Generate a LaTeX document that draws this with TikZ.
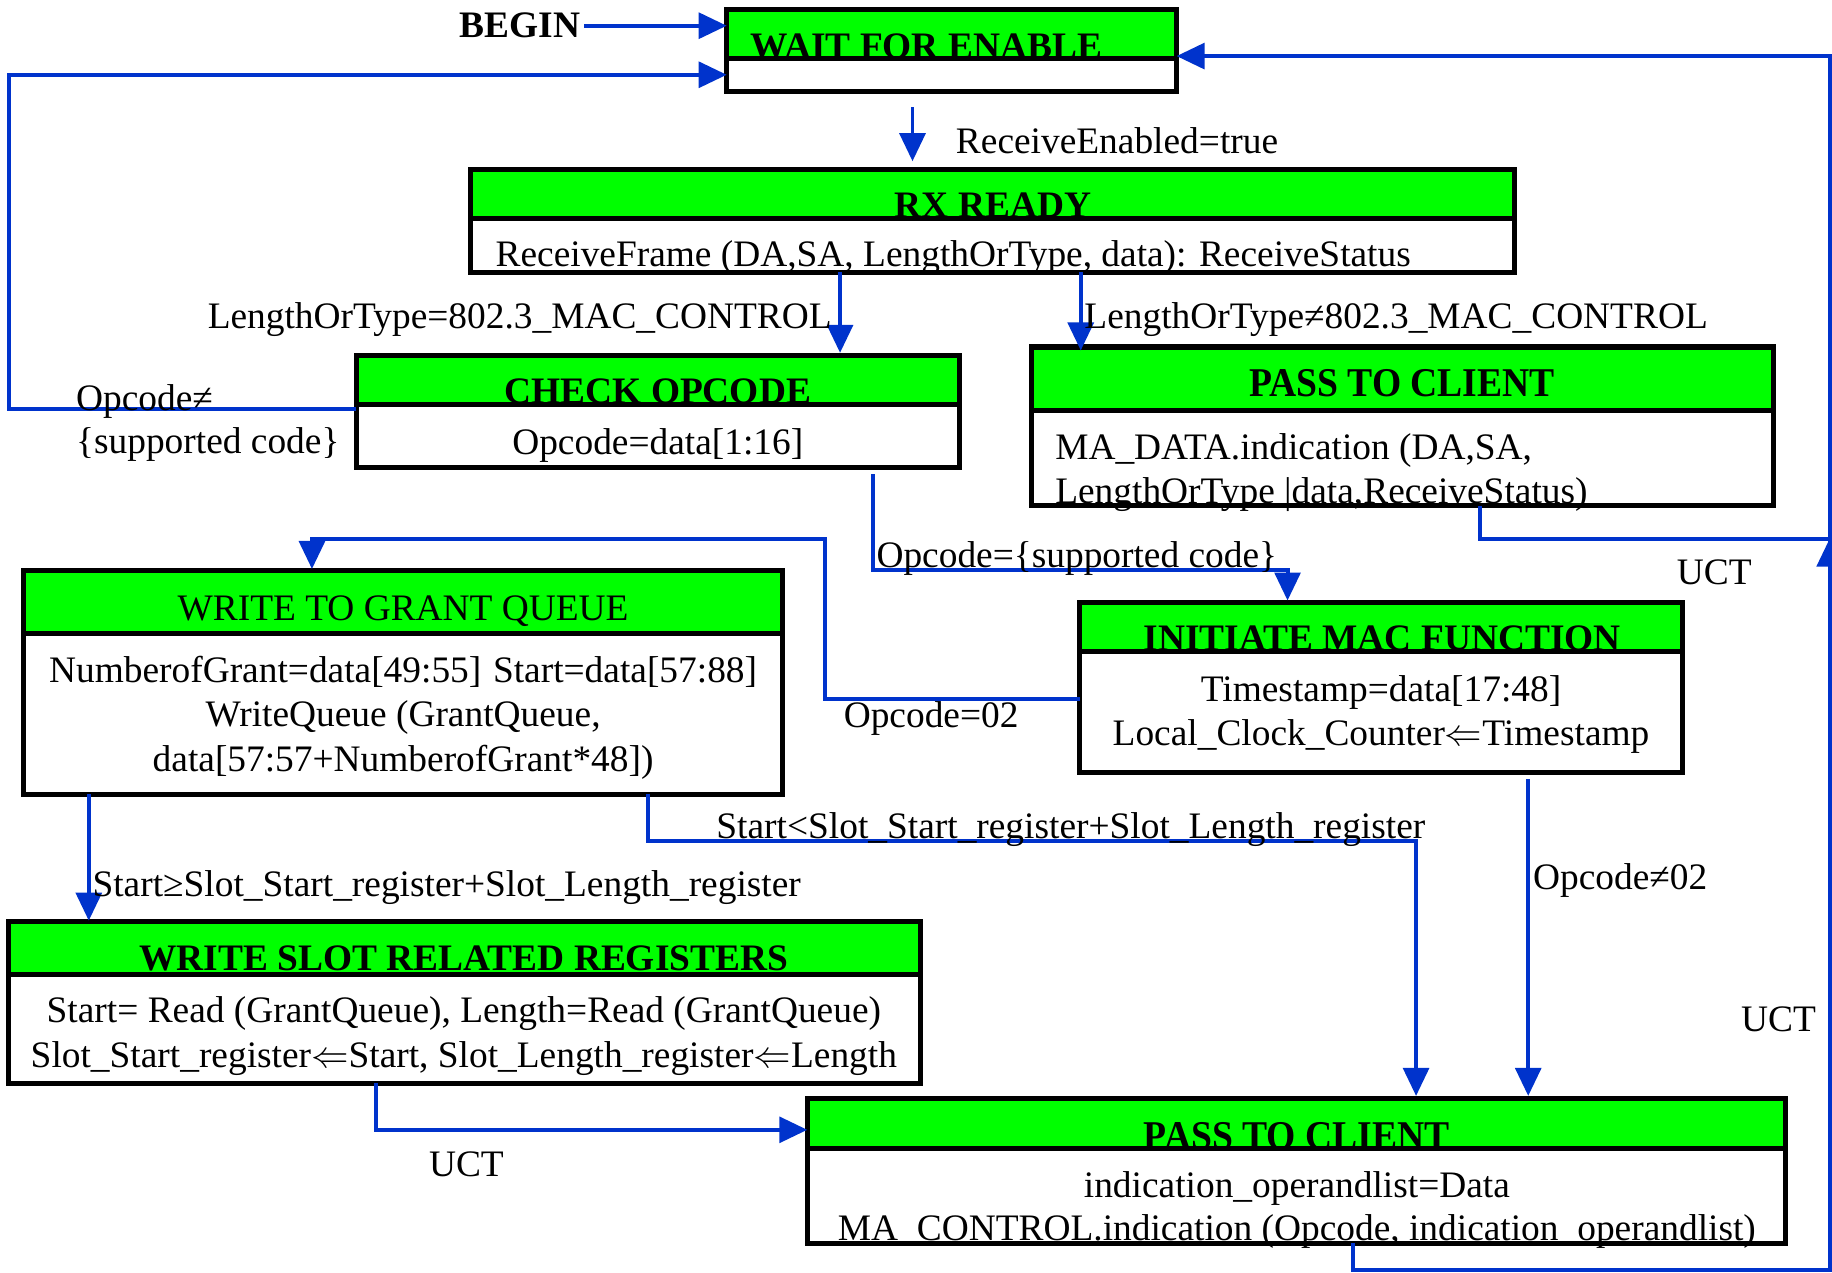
\documentclass[tikz,border=0pt]{standalone}
\usepackage{fontspec}
\setmainfont{Liberation Serif}
\newcommand{\larr}{\scalebox{1.29}{$\Leftarrow$}}
\usetikzlibrary{arrows.meta,calc}
\definecolor{hdr}{RGB}{0,255,0}
\definecolor{lnk}{RGB}{0,51,204}
\begin{document}
\begin{tikzpicture}[x=1pt,y=-1pt,
 box/.style={fill=white, inner sep=0pt, outer sep=0pt, anchor=north west},
 conn/.style={draw=lnk, line width=3.4pt, -{Triangle[length=24pt,width=22pt]}},
 plainlink/.style={draw=lnk, line width=3.4pt},
 txt/.style={font=\fontsize{32}{38}\selectfont, inner sep=0pt},
 ttl/.style={font=\fontsize{32}{38}\selectfont\bfseries, inner sep=0pt, anchor=base},
 bigttl/.style={font=\fontsize{35}{42}\selectfont\bfseries, inner sep=0pt, anchor=base, xscale=0.92},
 border/.style={draw=black, line width=4.3pt}]
\useasboundingbox[fill=white] (0,0) rectangle (1568,1089);

% boxes
\node[box, minimum width=385pt, minimum height=70pt] (wait) at (622,8) {};
\node[box, minimum width=893pt, minimum height=88pt] (rx) at (403,145) {};
\node[box, minimum width=516pt, minimum height=96pt] (chk) at (305,304) {};
\node[box, minimum width=635pt, minimum height=136pt] (ptca) at (883,297) {};
\node[box, minimum width=516pt, minimum height=145pt] (imf) at (924,516) {};
\node[box, minimum width=650pt, minimum height=192pt] (wgq) at (20,488) {};
\node[box, minimum width=781pt, minimum height=138pt] (wsr) at (7,789) {};
\node[box, minimum width=837pt, minimum height=124pt] (ptcb) at (691,940) {};

% headers
\fill[hdr] (wait.north west) rectangle ([yshift=-42pt]wait.north east);
\fill[hdr] (rx.north west) rectangle ([yshift=-42pt]rx.north east);
\fill[hdr] (chk.north west) rectangle ([yshift=-42pt]chk.north east);
\fill[hdr] (ptca.north west) rectangle ([yshift=-54pt]ptca.north east);
\fill[hdr] (imf.north west) rectangle ([yshift=-42pt]imf.north east);
\fill[hdr] (wgq.north west) rectangle ([yshift=-54pt]wgq.north east);
\fill[hdr] (wsr.north west) rectangle ([yshift=-45pt]wsr.north east);
\fill[hdr] (ptcb.north west) rectangle ([yshift=-43pt]ptcb.north east);

% titles
\node[ttl] (waitT) at (793,50) {WAIT FOR ENABLE};
\node[ttl] (rxT) at (850,186) {RX READY};
\node[ttl] (chkT) at (563,345) {CHECK OPCODE};
\node[bigttl] (ptcaT) at (1200,339) {PASS TO CLIENT};
\node[ttl] (imfT) at (1183,557) {INITIATE MAC FUNCTION};
\node[txt, anchor=base] (wgqT) at (345,531) {WRITE TO GRANT QUEUE};
\node[ttl] (wsrT) at (397,831) {WRITE SLOT RELATED REGISTERS};
\node[bigttl] (ptcbT) at (1110,984) {PASS TO CLIENT};

% body texts
\node[txt, anchor=base west] (rxB) at (424,228) {ReceiveFrame (DA,SA, LengthOrType, data): ReceiveStatus};
\node[txt, anchor=base] (chkB) at (563,389) {Opcode=data[1:16]};
\node[txt, anchor=base west] (ptcaB1) at (903,393) {MA\_DATA.indication (DA,SA,};
\node[txt, anchor=base west] (ptcaB2) at (903,431) {LengthOrType |data,ReceiveStatus)};
\node[txt, anchor=base] (imfB1) at (1182,600) {Timestamp=data[17:48]};
\node[txt, anchor=base] (imfB2) at (1182,638) {Local\_Clock\_Counter\larr Timestamp};
\node[txt, anchor=base] (wgqB1) at (345,584) {NumberofGrant=data[49:55]\hspace{10pt}Start=data[57:88]};
\node[txt, anchor=base] (wgqB2) at (345,622) {WriteQueue (GrantQueue,};
\node[txt, anchor=base] (wgqB3) at (345,660) {data[57:57+NumberofGrant*48])};
\node[txt, anchor=base] (wsrB1) at (397,875) {Start= Read (GrantQueue), Length=Read (GrantQueue)};
\node[txt, anchor=base] (wsrB2) at (397,914) {Slot\_Start\_register\larr Start, Slot\_Length\_register\larr Length};
\node[txt, anchor=base] (ptcbB1) at (1110,1025) {indication\_operandlist=Data};
\node[txt, anchor=base] (ptcbB2) at (1110,1062) {MA\_CONTROL.indication (Opcode, indication\_operandlist)};

% borders and dividers
\foreach \b/\h in {wait/42,rx/42,chk/42,ptca/54,imf/42,wgq/54,wsr/45,ptcb/43}{
  \draw[border] (\b.north west) rectangle (\b.south east);
  \draw[border] ([yshift=-\h pt]\b.north west) -- ([yshift=-\h pt]\b.north east);
}

% BEGIN
\node[ttl, anchor=east] (begin) at (497,22) {BEGIN};
\draw[conn] ([xshift=3pt]begin.east) -- ([yshift=21pt]wait.west);

% connectors
\draw[conn] ([xshift=159pt,yshift=-14pt]wait.south west) -- ([xshift=378pt,yshift=7pt]rx.north west);
\draw[conn] ([xshift=316pt]rx.south west) -- ([xshift=414pt,yshift=2pt]chk.north west);
\draw[conn] ([xshift=522pt]rx.south west) -- ([xshift=42pt,yshift=-3pt]ptca.north west);
\draw[conn] ([yshift=2pt]chk.west) -- ++(-297,0) |- ([yshift=-21pt]wait.west);
\draw[conn] ([xshift=442pt,yshift=-6pt]chk.south west) -- ++(0,82) -| ([xshift=178pt,yshift=2pt]imf.north west);
\draw[conn] ([yshift=-9.5pt]imf.west) -- ++(-218,0) -- ++(0,-137) -| ([xshift=247pt,yshift=1pt]wgq.north west);
\draw[conn] ([xshift=56pt]wgq.south west) -- ([xshift=69pt,yshift=1pt]wsr.north west);
\draw[conn] ([xshift=535pt]wgq.south west) -- ++(0,40) -| ([xshift=521pt,yshift=2pt]ptcb.north west);
\draw[conn] ([xshift=384pt,yshift=-6pt]imf.south west) -- ([xshift=617pt,yshift=2pt]ptcb.north west);
\draw[conn] ([xshift=315pt]wsr.south west) |- ([yshift=35pt]ptcb.west);
\coordinate (rtop) at (1566,48);
\draw[conn] ([xshift=467pt]ptcb.south west) -- ++(0,23) -| (rtop) -- ([yshift=-5pt]wait.east);
\coordinate (rmid) at (1566,461);
\draw[plainlink] ([xshift=384pt]ptca.south west) -- ++(0,28) -- (rmid);
\draw[conn] ([yshift=-28pt]rmid) -- (rmid);

% connector labels
\node[txt, anchor=base west] (l1) at (818,131) {ReceiveEnabled=true};
\node[txt, anchor=base east] (l2) at (712,281) {LengthOrType=802.3\_MAC\_CONTROL};
\node[txt, anchor=base west] (l3) at (928,281) {LengthOrType≠802.3\_MAC\_CONTROL};
\node[txt, anchor=base west] (l4) at (65,351) {Opcode≠};
\node[txt, anchor=base west] (l5) at (65,388) {\{supported code\}};
\node[txt, anchor=base west] (l6) at (750,486) {Opcode=\{supported code\}};
\node[txt, anchor=base west] (l7) at (1435,500) {UCT};
\node[txt, anchor=base west] (l8) at (722,623) {Opcode=02};
\node[txt, anchor=base west] (l9) at (613,718) {Start<Slot\_Start\_register+Slot\_Length\_register};
\node[txt, anchor=base west] (l10) at (1312,761) {Opcode≠02};
\node[txt, anchor=base west] (l11) at (79,767) {Start≥Slot\_Start\_register+Slot\_Length\_register};
\node[txt, anchor=base west] (l12) at (1490,883) {UCT};
\node[txt, anchor=base west] (l13) at (367,1007) {UCT};
\end{tikzpicture}
\end{document}
